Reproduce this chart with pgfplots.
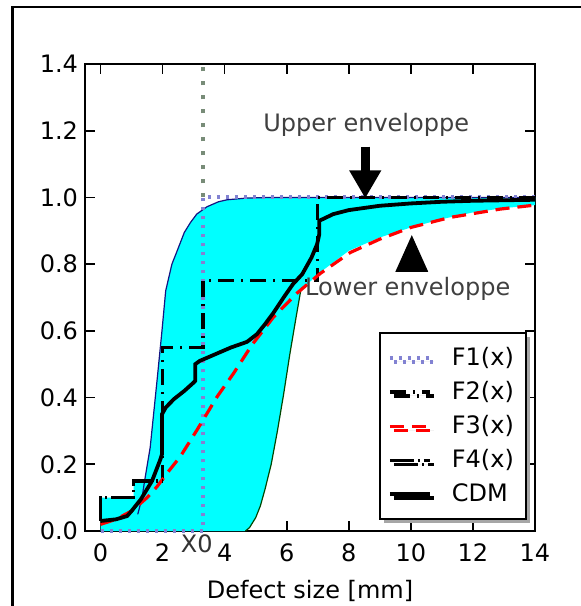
\documentclass[border=0pt]{standalone}
\usepackage{fontspec}
\setmainfont{DejaVu Sans}
\usepackage{pgfplots}
\pgfplotsset{compat=1.18}
\usetikzlibrary{shadows,arrows.meta}
\definecolor{fonecol}{RGB}{130,130,210}
\definecolor{upedge}{RGB}{20,20,130}
\definecolor{loedge}{RGB}{0,70,0}
\definecolor{aqua}{RGB}{0,255,255}
\definecolor{markcol}{RGB}{120,140,120}
\begin{document}
\begin{tikzpicture}[font=\fontsize{12}{14}\selectfont]
\begin{axis}[
  at={(0,0)}, anchor=south west,
  scale only axis, width=225pt, height=233.5pt,
  xmin=-0.5, xmax=14, ymin=0, ymax=1.4,
  xtick={0,2,4,6,8,10,12,14},
  ytick={0,0.2,0.4,0.6,0.8,1.0,1.2,1.4},
  yticklabel style={/pgf/number format/.cd, fixed, fixed zerofill, precision=1},
  xticklabel style={yshift=-3pt},
  /pgf/number format/assume math mode=true,
  tick align=inside, major tick length=5pt,
  tick style={black, line width=0.8pt},
  axis line style={line width=1.1pt},
  xlabel={Defect size [mm]},
  xlabel style={yshift=-2pt},
  clip=false,
  legend cell align=left,
  legend image code/.code={\draw[#1] (0pt,0pt) -- (20pt,0pt);},
  legend style={at={(0.982,0.024)}, anchor=south east, draw=black, line width=1pt,
    fill=white, inner xsep=4pt, inner ysep=5pt, row sep=2.5pt,
    drop shadow={shadow xshift=2pt, shadow yshift=-2pt, fill=gray!70, opacity=1},
    /tikz/every odd column/.append style={column sep=8pt}},
]
% envelope fill
\addplot[fill=aqua, draw=none, forget plot] coordinates {
 (0,0) (0,0.1) (1.07,0.1) (1.07,0.15) (1.42,0.15) (1.6,0.25) (1.82,0.45) (1.98,0.6)
 (2.1,0.72) (2.3,0.8) (2.47,0.84) (2.7,0.895) (2.9,0.925) (3.1,0.95) (3.43,0.972)
 (3.8,0.987) (4.08,0.993) (4.7,0.998) (5.5,1.0) (14,1.0)
 (14,0.977) (13,0.968) (12,0.955) (11,0.935) (10,0.91) (9,0.88) (8,0.84) (7,0.77)
 (6.45,0.72) (6.3,0.64) (6.1,0.53) (5.9,0.41) (5.7,0.3) (5.5,0.2) (5.3,0.125)
 (5.15,0.075) (5.0,0.04) (4.8,0.01) (4.67,0)
} -- cycle;
% envelope edges
\addplot[upedge, line width=0.6pt, forget plot] coordinates {
 (1.2,0.05) (1.34,0.1) (1.42,0.15) (1.6,0.25) (1.82,0.45) (1.98,0.6)
 (2.1,0.72) (2.3,0.8) (2.47,0.84) (2.7,0.895) (2.9,0.925) (3.1,0.95) (3.43,0.972)
 (3.8,0.987) (4.08,0.993) (4.7,0.998) (5.5,1.0) (14,1.0)};
\addplot[loedge, line width=0.6pt, forget plot] coordinates {
 (4.67,0) (4.8,0.01) (5.0,0.04) (5.15,0.075) (5.3,0.125) (5.5,0.2) (5.7,0.3)
 (5.9,0.41) (6.1,0.53) (6.3,0.64) (6.45,0.72)};
% vertical marker at X0
\addplot[markcol, line width=2pt, dash pattern=on 2pt off 5pt, forget plot]
 coordinates {(3.3,1.0) (3.3,1.4)};
% F1
\addplot[fonecol, line width=2pt, dash pattern=on 1.5pt off 3pt] coordinates {(0,0) (3.3,0) (3.3,1) (14,1)};
% F2
\addplot[black, line width=1.6pt, dash pattern=on 8pt off 3.5pt on 1pt off 3.5pt] coordinates {
 (2.0,0.15) (2.0,0.55) (3.3,0.55) (3.3,0.75) (7.0,0.75) (7.0,1.0) (14,1.0)};
% F3
\addplot[red, line width=1.6pt, dash pattern=on 7pt off 4pt] coordinates {
 (0,0.02) (0.5,0.035) (1,0.06) (1.5,0.1) (1.82,0.133) (2.2,0.18) (2.57,0.223)
 (3.11,0.303) (3.76,0.403) (4.29,0.473) (4.88,0.558) (5.58,0.642) (6.33,0.713)
 (7.08,0.772) (8.05,0.835) (9,0.875) (10,0.91) (11.26,0.94) (12.87,0.965) (14,0.977)};
% F4
\addplot[black, line width=1.6pt, dash pattern=on 12pt off 2pt on 1pt off 2pt] coordinates {
 (0,0.03) (0,0.1) (1.07,0.1) (1.07,0.15) (2.0,0.15)};
% CDM
\addplot[black, line width=1.9pt] coordinates {
 (0,0.03) (0.5,0.035) (0.86,0.045) (1.0,0.06) (1.3,0.095) (1.66,0.15) (1.93,0.215)
 (1.98,0.23) (1.98,0.35) (2.1,0.37) (2.36,0.395) (2.7,0.42) (3.0,0.445) (3.05,0.45)
 (3.05,0.5) (3.2,0.51) (3.65,0.528) (4.2,0.55) (4.72,0.567) (5.04,0.59) (5.3,0.62)
 (5.58,0.655) (5.9,0.70) (6.2,0.74) (6.5,0.77) (6.8,0.82) (6.98,0.86) (7.05,0.89)
 (7.05,0.93) (7.5,0.95) (8,0.962) (9,0.975) (10,0.982) (11,0.987) (12,0.99) (14,0.993)};
\legend{F1(x),F2(x),F3(x),F4(x),CDM}
% annotations
\node[text=black!75] at (axis cs:8.56,1.217) {Upper enveloppe};
\draw[line width=4.5pt, -{Triangle[width=15pt,length=14pt]}] (axis cs:8.53,1.152) -- (axis cs:8.53,0.997);
\node[text=black!75] at (axis cs:9.9,0.725) {Lower enveloppe};
\fill[black] (axis cs:9.5,0.777) -- (axis cs:10.56,0.777) -- (axis cs:10.03,0.887) -- cycle;
\node[text=black!80, anchor=north, inner sep=1pt] at (axis cs:3.1,-0.005) {X0};
\end{axis}
\draw[line width=1.2pt] (-36.25pt,-60pt) -- (-36.25pt,262pt) -- (280pt,262pt);
\pgfresetboundingbox
\useasboundingbox (-42.5pt,-37.5pt) rectangle (247.5pt,265.5pt);
\end{tikzpicture}
\end{document}
